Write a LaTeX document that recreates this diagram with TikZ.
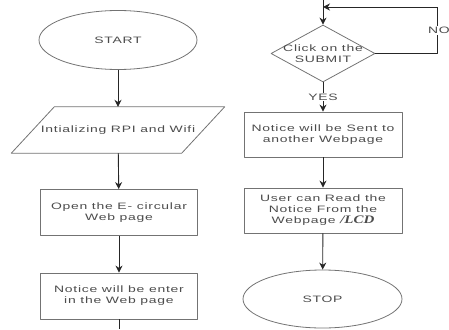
\documentclass[tikz,border=0pt]{standalone}
\usepackage{fontspec}
\setmainfont{Liberation Sans}[FakeStretch=1.5,LetterSpace=8]
\newfontfamily\lcdfont{Liberation Serif}[FakeStretch=1.3]
\usetikzlibrary{shapes.geometric,arrows.meta}

\begin{document}
\begin{tikzpicture}[x=1pt, y=-1pt, line join=round, >={Stealth[length=7pt,width=7pt]},
		font=\fontsize{9.3}{11}\selectfont,
		outline/.style={draw=black!55, line width=0.8pt},
		term/.style={ellipse, outline, minimum width=158, minimum height=59, text=black!70},
		proc/.style={rectangle, outline, minimum width=157, minimum height=46, align=center, text=black!70},
		flow/.style={black!85, line width=0.9pt}]
					\useasboundingbox (0,0) rectangle (449,329);
					\node (start) at (118,40) [term] {START};
					\node (init) at (118,130) [minimum width=170, minimum height=46, text=black!70] {Intializing RPI and Wifi};
					\draw[outline] ([xshift=21.5]init.north west) -- ([xshift=21.5]init.north east) -- ([xshift=-21.5]init.south east) -- ([xshift=-21.5]init.south west) -- cycle;
					\node (open) at (119,212.5) [proc] {Open the E- circular\\Web page};
					\node (enter) at (119,296) [proc] {Notice will be enter\\in the Web page};
					\coordinate (leftend) at (119,329);
					\draw[flow,->] (start) -- (init);
					\draw[flow,->] (init) -- (open);
					\draw[flow,->] (open) -- (enter);
					\draw[flow] (enter) -- (leftend);
					\coordinate (top) at (323,0);
					\coordinate (merge) at (323,7);
					\coordinate (nocorner) at (437,7);
					\node (click) at (323,53.5) [diamond, outline, minimum width=104, minimum height=57, inner sep=0pt,
						label={[align=center, text=black!70]center:Click on the\\SUBMIT}] {};
					\node (sent) at (323,134.5) [proc, minimum width=158, minimum height=45] {Notice will be Sent to\\another Webpage};
					\node (read) at (323,210.5) [proc, minimum width=158, minimum height=45] {User can Read the\\Notice From the\\Webpage {\lcdfont\bfseries\itshape\fontsize{11.5}{11}\selectfont /LCD}};
					\node (stop) at (322.5,299) [term, minimum width=159, minimum height=58] {STOP};
					\draw[flow,->] (top) -- (click);
					\draw[flow] (click.east) -- (click.east -| nocorner) -- node[fill=white, inner sep=1pt, text=black!70, xshift=2pt] {NO} (nocorner);
					\draw[flow,->] (nocorner) -- (merge);
					\draw[flow,->] (click) -- node[fill=white, inner sep=1pt, text=black!70] {YES} (sent);
					\draw[flow,->] (sent) -- (read);
					\draw[flow,->] (read) -- (stop);
\end{tikzpicture}
\end{document}
